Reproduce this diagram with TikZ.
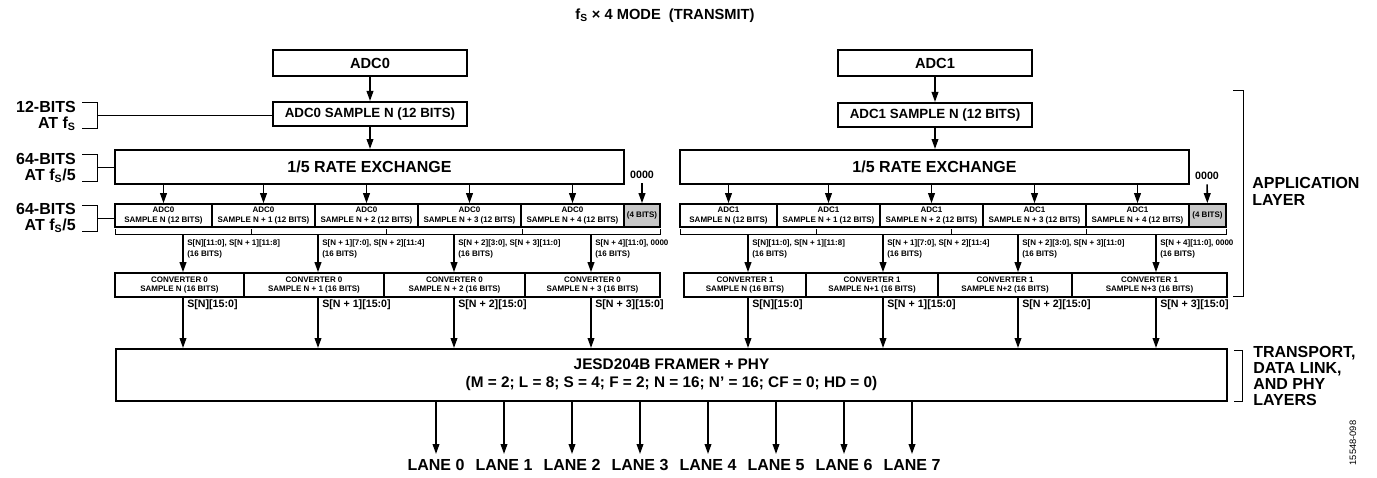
\documentclass[tikz,border=0pt]{standalone}
\usepackage{fontspec}
\setmainfont{Liberation Sans}
\usetikzlibrary{arrows.meta,positioning}

\tikzset{
  sz/.style 2 args={minimum width=#1*0.75pt, minimum height=#2*0.75pt},
  blk/.style={draw, line width=1.5pt, inner sep=0pt, align=center},
  cell/.style={blk, line width=1.2pt, font=\fontsize{6}{7}\selectfont\bfseries},
  arr/.style={-{Triangle[length=7.5pt,width=5pt]}, line width=1.2pt},
  brk/.style={line width=0.7pt},
  side/.style={font=\fontsize{12}{12}\selectfont\bfseries, inner sep=0pt},
  bitlbl/.style={font=\fontsize{6}{8.5}\selectfont\bfseries, align=left, anchor=north west, inner sep=0pt},
  seglbl/.style={font=\fontsize{8}{9}\selectfont\bfseries, anchor=west, inner sep=0pt}
}

\begin{document}
\begin{tikzpicture}[x=0.75pt, y=-0.75pt]
\useasboundingbox (0,0) rectangle (1377,478);

\node[font=\fontsize{11}{13}\selectfont\bfseries] (title) at (665,16) {f\textsubscript{S} × 4 MODE\ \ (TRANSMIT)};

% left side labels
\node[side, align=right, anchor=north east] (bits12) at (76,101) {12-BITS\\AT f\textsubscript{S}};
\node[side, align=right, anchor=north east] (bits64a) at (76,153) {64-BITS\\AT f\textsubscript{S}/5};
\node[side, align=right, anchor=north east] (bits64b) at (76,203) {64-BITS\\AT f\textsubscript{S}/5};
\draw[brk] (82,102) -- (97,102) -- (97,128) -- (82,128);
\draw[brk] (82,154) -- (97,154) -- (97,181) -- (82,181);
\draw[brk] (82,205) -- (97,205) -- (97,231) -- (82,231);
\coordinate (k1) at (97,115);
\coordinate (k2) at (97,167);
\coordinate (k3) at (97,218);

% ADC0 path
\node[blk, sz={194}{26}, font=\fontsize{11}{13}\selectfont\bfseries] (adc0) at (370,63) {ADC0};
\node[blk, sz={194}{24}, font=\fontsize{10}{12}\selectfont\bfseries] (smp0) at (370,114) {ADC0 SAMPLE N (12 BITS)};
\node[blk, sz={509}{34}, font=\fontsize{12}{14}\selectfont\bfseries] (rate0) at (369.5,167) {1/5 RATE EXCHANGE};
\draw[arr] (adc0) -- (smp0);
\draw[arr] (smp0) -- (smp0 |- rate0.north);
\draw[brk] (k1) -- (k1 -| smp0.west);
\draw[brk] (k2) -- (k2 -| rate0.west);

\node[cell, sz={97}{23}] (a01) at (163.5,215.5) {ADC0\\SAMPLE N (12 BITS)};
\node[cell, sz={103}{23}] (a02) at (263.5,215.5) {ADC0\\SAMPLE N + 1 (12 BITS)};
\node[cell, sz={103}{23}] (a03) at (366.5,215.5) {ADC0\\SAMPLE N + 2 (12 BITS)};
\node[cell, sz={103}{23}] (a04) at (469.5,215.5) {ADC0\\SAMPLE N + 3 (12 BITS)};
\node[cell, sz={103}{23}] (a05) at (572.5,215.5) {ADC0\\SAMPLE N + 4 (12 BITS)};
\node[cell, sz={36}{23}, fill=black!22] (pad0) at (642,215.5) {(4 BITS)};
\node[font=\fontsize{8}{9}\selectfont\bfseries] (zero0) at (642,175) {0000};
\draw[arr] (zero0) -- (pad0);
\draw[brk] (k3) -- (k3 -| a01.west);
\foreach \c in {a01,a02,a03,a04,a05}
  \draw[arr] (rate0.south -| \c.north) -- (\c.north);

\draw[brk] (115,229) -- (115,234) -- (660,234) -- (660,229);
\foreach \x in {251,386,522}
  \draw[brk] (\x,234) -- (\x,229);
\coordinate (ga1) at (183,234);
\coordinate (ga2) at (318,234);
\coordinate (ga3) at (454,234);
\coordinate (ga4) at (591,234);

\node[cell, sz={129}{24}] (cv01) at (179.5,285) {CONVERTER 0\\SAMPLE N (16 BITS)};
\node[cell, sz={140}{24}] (cv02) at (314,285) {CONVERTER 0\\SAMPLE N + 1 (16 BITS)};
\node[cell, sz={141}{24}] (cv03) at (454.5,285) {CONVERTER 0\\SAMPLE N + 2 (16 BITS)};
\node[cell, sz={135}{24}] (cv04) at (592.5,285) {CONVERTER 0\\SAMPLE N + 3 (16 BITS)};

\node[bitlbl] (ba1) at (187,239) {S[N][11:0], S[N + 1][11:8]\\(16 BITS)};
\node[bitlbl] (ba2) at (322,239) {S[N + 1][7:0], S[N + 2][11:4]\\(16 BITS)};
\node[bitlbl] (ba3) at (458,239) {S[N + 2][3:0], S[N + 3][11:0]\\(16 BITS)};
\node[bitlbl] (ba4) at (595,239) {S[N + 4][11:0], 0000\\(16 BITS)};

% ADC1 path
\node[blk, sz={194}{26}, font=\fontsize{11}{13}\selectfont\bfseries] (adc1) at (935,63) {ADC1};
\node[blk, sz={194}{24}, font=\fontsize{10}{12}\selectfont\bfseries] (smp1) at (935,115) {ADC1 SAMPLE N (12 BITS)};
\node[blk, sz={509}{34}, font=\fontsize{12}{14}\selectfont\bfseries] (rate1) at (934.5,167) {1/5 RATE EXCHANGE};
\draw[arr] (adc1) -- (smp1);
\draw[arr] (smp1) -- (smp1 |- rate1.north);

\node[cell, sz={97}{23}] (b01) at (728.5,215.5) {ADC1\\SAMPLE N (12 BITS)};
\node[cell, sz={103}{23}] (b02) at (828.5,215.5) {ADC1\\SAMPLE N + 1 (12 BITS)};
\node[cell, sz={103}{23}] (b03) at (931.5,215.5) {ADC1\\SAMPLE N + 2 (12 BITS)};
\node[cell, sz={103}{23}] (b04) at (1034.5,215.5) {ADC1\\SAMPLE N + 3 (12 BITS)};
\node[cell, sz={103}{23}] (b05) at (1137.5,215.5) {ADC1\\SAMPLE N + 4 (12 BITS)};
\node[cell, sz={37}{23}, fill=black!22] (pad1) at (1207.5,215.5) {(4 BITS)};
\node[font=\fontsize{8}{9}\selectfont\bfseries] (zero1) at (1207,176) {0000};
\draw[arr] (zero1) -- (pad1);
\foreach \c in {b01,b02,b03,b04,b05}
  \draw[arr] (rate1.south -| \c.north) -- (\c.north);

\draw[brk] (680,229) -- (680,234) -- (1226,234) -- (1226,229);
\foreach \x in {816,951,1086}
  \draw[brk] (\x,234) -- (\x,229);
\coordinate (gb1) at (748,234);
\coordinate (gb2) at (883,234);
\coordinate (gb3) at (1018,234);
\coordinate (gb4) at (1156,234);

\node[cell, sz={122}{24}] (cv11) at (745,285) {CONVERTER 1\\SAMPLE N (16 BITS)};
\node[cell, sz={132}{24}] (cv12) at (872,285) {CONVERTER 1\\SAMPLE N+1 (16 BITS)};
\node[cell, sz={134}{24}] (cv13) at (1005,285) {CONVERTER 1\\SAMPLE N+2 (16 BITS)};
\node[cell, sz={155}{24}] (cv14) at (1149.5,285) {CONVERTER 1\\SAMPLE N+3 (16 BITS)};

\node[bitlbl] (bb1) at (752,239) {S[N][11:0], S[N + 1][11:8]\\(16 BITS)};
\node[bitlbl] (bb2) at (887,239) {S[N + 1][7:0], S[N + 2][11:4]\\(16 BITS)};
\node[bitlbl] (bb3) at (1022,239) {S[N + 2][3:0], S[N + 3][11:0]\\(16 BITS)};
\node[bitlbl] (bb4) at (1160,239) {S[N + 4][11:0], 0000\\(16 BITS)};

% framer
\node[blk, sz={1111}{52}, font=\fontsize{11.5}{13.5}\selectfont\bfseries] (fr) at (671.5,375) {JESD204B FRAMER + PHY\\(M = 2; L = 8; S = 4; F = 2; N = 16; N' = 16; CF = 0; HD = 0)};

\foreach \g/\v/\t in {ga1/cv01/S[N][15:0], ga2/cv02/S[N + 1][15:0], ga3/cv03/S[N + 2][15:0], ga4/cv04/S[N + 3][15:0],
                      gb1/cv11/S[N][15:0], gb2/cv12/S[N + 1][15:0], gb3/cv13/S[N + 2][15:0], gb4/cv14/S[N + 3][15:0]} {
  \draw[arr] (\g) -- (\g |- \v.north);
  \draw[arr] (\g |- \v.south) -- (\g |- fr.north);
  \node[seglbl] at ([xshift=3pt]\g |- 0,305) {\t};
}

\foreach \i in {0,...,7} {
  \node[side, anchor=north, inner sep=4pt] (lane\i) at ({436+68*\i},454) {LANE \i};
  \draw[arr] (fr.south -| lane\i) -- (lane\i.north);
}

% layer brackets
\draw[brk] (1233,90) -- (1243,90) -- (1243,296) -- (1233,296);
\node[side, align=left, anchor=north west, font=\fontsize{12}{13}\selectfont\bfseries] (app) at (1252,177) {APPLICATION\\LAYER};
\draw[brk] (1234,350) -- (1242,350) -- (1242,401) -- (1234,401);
\node[side, align=left, anchor=north west] (tdl) at (1253,346) {TRANSPORT,\\DATA LINK,\\AND PHY\\LAYERS};

\node[rotate=90, font=\fontsize{7}{8}\selectfont] (fig) at (1353,443) {15548-098};
\end{tikzpicture}
\end{document}
